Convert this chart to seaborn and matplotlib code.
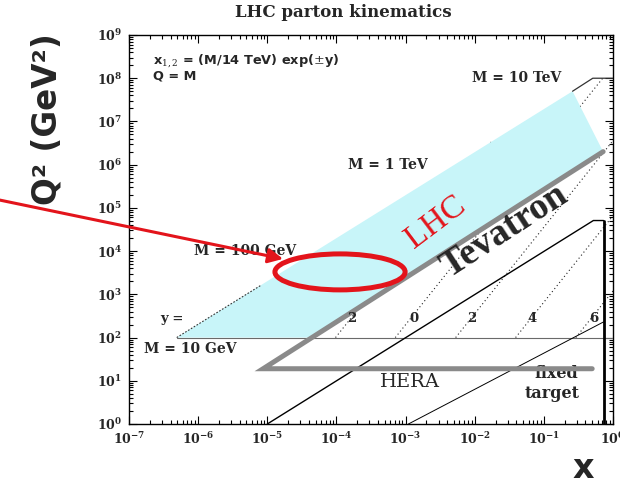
import matplotlib
matplotlib.use("Agg")
import matplotlib.pyplot as plt
from matplotlib.patches import Ellipse
from matplotlib.ticker import FixedLocator, FixedFormatter, LogLocator, NullFormatter
import seaborn as sns

# LHC acceptance band (cyan)
lhc_x = [4.9e-7, 4.25e-5, 0.72, 0.26]
lhc_q2 = [1e2, 1e2, 2.0e6, 5.0e7]

# Tevatron edge joined to the HERA floor (thick grey)
tev_x = [0.72, 8.7e-6, 0.5]
tev_q2 = [2.0e6, 19.0, 19.0]

# M = 10 GeV threshold
m10gev_x = [4.9e-7, 1.0]
m10gev_q2 = [1e2, 1e2]

# M = 10 TeV edge
m10tev_x = [0.26, 0.51, 1.0]
m10tev_q2 = [5.0e7, 1e8, 1e8]

# dotted stub along the left edge of the LHC band
edge_x = [4.9e-7, 8.0e-6]
edge_q2 = [1e2, 1.6e3]

# HERA kinematic limit
hera_x = [1.0e-5, 0.52, 0.73]
hera_q2 = [1.0, 5.1e4, 5.1e4]

# fixed-target region
fixed_x = [1.1e-3, 0.73]
fixed_q2 = [1.0, 2.3e2]
wall_x = [0.73, 0.73]
wall_q2 = [5.1e4, 1.0]

# lines of constant rapidity y
rap_text = ["2", "0", "2", "4", "6"]
rap_label_x = [1.65e-4, 1.3e-3, 9.2e-3, 6.7e-2, 0.52]
rap_label_q2 = 2.8e2
rap_start_x = [9.7e-5, 7.1e-4, 5.3e-3, 3.9e-2, 0.29]
rap_start_q2 = 1e2
rap_end_x = [1.8e-2, 0.71, 1.0, 1.0, 1.0]
rap_end_q2 = [3.6e6, 1e8, 3.6e6, 6.6e4, 1.2e3]

# mass labels
mass_text = ["M = 10 TeV", "M = 1 TeV", "M = 100 GeV", "M = 10 GeV"]
mass_x = [0.041, 5.6e-4, 4.8e-6, 7.6e-7]
mass_q2 = [1.0e8, 1.0e6, 1.0e4, 55.0]

# axis decades
x_decades = list(range(-7, 1))
y_decades = list(range(0, 10))

sns.set_style("ticks")
plt.rcParams["mathtext.fontset"] = "custom"
plt.rcParams["mathtext.rm"] = "DejaVu Serif"
plt.rcParams["mathtext.bf"] = "DejaVu Serif:bold"
plt.rcParams["font.family"] = ["DejaVu Serif", "DejaVu Sans"]

RED = "#e3141b"
GREY = "#8a8a8a"
CYAN = "#c8f5f9"

fig = plt.figure(figsize=(6.2, 4.9), dpi=100)
ax = fig.add_axes([129 / 620, 1 - 424 / 490, 484 / 620, 389 / 490])
ax.set_xscale("log")
ax.set_yscale("log")
ax.set_xlim(1e-7, 1.0)
ax.set_ylim(1.0, 1e9)

# constant-rapidity lines
for sx, ex, eq in zip(rap_start_x, rap_end_x, rap_end_q2):
    sns.lineplot(x=[sx, ex], y=[rap_start_q2, eq], ax=ax, color="#222222",
                 lw=0.8, linestyle=(0, (1, 2.5)), sort=False, estimator=None,
                 zorder=1)

# LHC band
ax.fill(lhc_x, lhc_q2, color=CYAN, lw=0, zorder=2)


def line(xs, ys, **kw):
    sns.lineplot(x=xs, y=ys, ax=ax, sort=False, estimator=None, **kw)


line(m10gev_x, m10gev_q2, color="#6a6a6a", lw=0.8, zorder=3)
line(edge_x, edge_q2, color="#333333", lw=0.8, linestyle=(0, (1.5, 1.5)), zorder=3)
line(m10tev_x, m10tev_q2, color="#333333", lw=0.9, zorder=3)
line(hera_x, hera_q2, color="black", lw=1.0, zorder=3)
line(fixed_x, fixed_q2, color="black", lw=0.7, zorder=3)
line(wall_x, wall_q2, color="black", lw=2.0, zorder=3)
line(tev_x, tev_q2, color=GREY, lw=3.6, zorder=4, solid_joinstyle="miter")

# axes styling
for s in ax.spines.values():
    s.set_linewidth(1.0)
    s.set_color("black")
ax.xaxis.set_major_locator(FixedLocator([10.0 ** k for k in x_decades]))
ax.xaxis.set_major_formatter(FixedFormatter([r"$\mathbf{10^{%d}}$" % k for k in x_decades]))
ax.yaxis.set_major_locator(FixedLocator([10.0 ** k for k in y_decades]))
ax.yaxis.set_major_formatter(FixedFormatter([r"$\mathbf{10^{%d}}$" % k for k in y_decades]))
for a in (ax.xaxis, ax.yaxis):
    a.set_minor_locator(LogLocator(base=10, subs=range(2, 10), numticks=30))
    a.set_minor_formatter(NullFormatter())
ax.tick_params(which="both", direction="in", top=True, right=True,
               color="black", width=0.8)
ax.tick_params(which="major", length=6, labelsize=9, pad=5)
ax.tick_params(which="minor", length=3)

# text annotations
ax.text(2.2e-7, 2.6e8, r"x$_{1,2}$ = (M/14 TeV) exp($\pm$y)", family="DejaVu Sans",
        weight="bold", fontsize=9.3, va="center", ha="left", zorder=5)
ax.text(2.2e-7, 1.12e8, "Q = M", family="DejaVu Sans", weight="bold",
        fontsize=9.3, va="center", ha="left", zorder=5)
for t, mx, mq in zip(mass_text, mass_x, mass_q2):
    ax.text(mx, mq, t, weight="bold", fontsize=10, ha="center", va="center", zorder=5)
ax.text(4.2e-7, rap_label_q2, "y =", weight="bold", fontsize=9.5, ha="center",
        va="center", zorder=5)
for t, lx in zip(rap_text, rap_label_x):
    ax.text(lx, rap_label_q2, t, weight="bold", fontsize=9.5, ha="center",
            va="center", zorder=5)

ax.text(1.17e-3, 9.5, "HERA", fontsize=14, ha="center", va="center", zorder=5)
ax.text(0.15, 15, "fixed", weight="bold", fontsize=11.5, ha="center", va="center", zorder=3.5)
ax.text(0.13, 5.1, "target", weight="bold", fontsize=11.5, ha="center", va="center", zorder=5)

ax.text(2.77e-3, 4.7e4, "LHC", color=RED, family="Liberation Serif", fontsize=24,
        rotation=37, rotation_mode="anchor", ha="center", va="center", zorder=5)
ax.text(0.027, 2.9e4, "Tevatron", weight="bold", family="Liberation Serif", fontsize=27,
        rotation=33, rotation_mode="anchor", ha="center", va="center", zorder=5)

ax.text(0.442, 1.057, "LHC parton kinematics", transform=ax.transAxes,
        weight="bold", fontsize=12, ha="center", va="center")

ax.set_ylabel("Q² (GeV²)", family="DejaVu Sans", weight="bold", fontsize=23.5)
ax.yaxis.set_label_coords(-0.169, 0.784)
ax.yaxis.label.set_va("center")
ax.set_xlabel("x", family="DejaVu Sans", weight="bold", fontsize=24)
ax.xaxis.set_label_coords(0.938, -0.115)
ax.xaxis.label.set_va("center")

# highlight
ax.add_patch(Ellipse((0.436, 0.391), 0.269, 0.0925, transform=ax.transAxes,
                     fill=False, ec=RED, lw=3.6, zorder=6, clip_on=False))
ax.annotate("", xy=(1.69e-5, 6.6e3), xytext=(1.15e-9, 1.6e5),
            arrowprops=dict(arrowstyle="-|>", color=RED, lw=2.2,
                            mutation_scale=22, shrinkA=0, shrinkB=0),
            annotation_clip=False, zorder=6)

fig.savefig("out.png", dpi=100, facecolor="white")
